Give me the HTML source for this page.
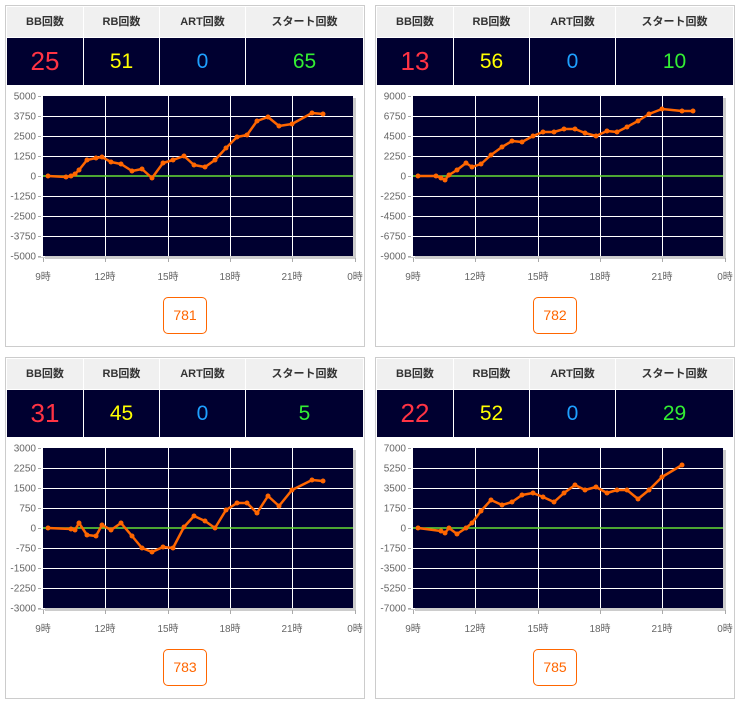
<!DOCTYPE html>
<html><head><meta charset="utf-8"><style>
body{margin:0;width:738px;height:706px;background:#fff;position:relative;overflow:hidden;font-family:"Liberation Sans","Noto Sans CJK JP",sans-serif}
.p{position:absolute;width:370px;height:352px}
.box{position:absolute;left:5px;top:5px;width:358px;height:340px;border:1px solid #ccc;background:#fff}
.hd{position:absolute;top:1px;height:30px;background:#f0f0f0;font-size:11px;font-weight:bold;color:#333;text-align:center;line-height:30px}
.dk{position:absolute;top:32px;height:47px;background:#000030;text-align:center;line-height:47px;font-size:21px}
.btn{position:absolute;left:157px;top:291px;width:42px;height:35px;border:1px solid #ff6600;border-radius:5px;color:#ff6600;font-size:14px;text-align:center;line-height:35px}
svg{position:absolute;left:0;top:0}
</style></head><body>
<div id="root"></div>
<script>
const panels=[
 {x:0,y:0,v:["25","51","0","65"],lab:["5000","3750","2500","1250","0","-1250","-2500","-3750","-5000"],id:"781",
  pts:[[48,176],[66,177],[71,176],[75,174],[79,170],[87,160],[96,158],[102,157],[111,162],[121,164],[132,171],[142,169],[152,178],[163,163],[173,160],[184,156],[194,165],[205,167],[215,160],[226,148],[237,137],[247,135],[257,121],[268,117],[279,126],[292,124],[312,113],[323,114]]},
 {x:370,y:0,v:["13","56","0","10"],lab:["9000","6750","4500","2250","0","-2250","-4500","-6750","-9000"],id:"782",
  pts:[[48,176],[66,176],[71,178],[75,180],[79,175],[87,170],[96,163],[102,167],[111,164],[121,155],[132,147],[142,141],[152,142],[163,136],[173,132],[184,132],[194,129],[205,129],[215,133],[226,136],[237,131],[247,132],[257,127],[268,121],[279,114],[292,109],[312,111],[323,111]]},
 {x:0,y:352,v:["31","45","0","5"],lab:["3000","2250","1500","750","0","-750","-1500","-2250","-3000"],id:"783",
  pts:[[48,176],[71,177],[75,178],[79,171],[87,183],[96,184],[102,173],[111,178],[121,171],[132,184],[142,196],[152,200],[163,195],[173,196],[184,175],[194,164],[205,169],[215,176],[226,158],[237,151],[247,151],[257,161],[268,144],[279,154],[292,138],[312,128],[323,129]]},
 {x:370,y:352,v:["22","52","0","29"],lab:["7000","5250","3500","1750","0","-1750","-3500","-5250","-7000"],id:"785",
  pts:[[48,176],[71,179],[75,181],[79,176],[87,182],[96,176],[102,171],[111,159],[121,148],[132,153],[142,150],[152,143],[163,141],[173,145],[184,150],[194,141],[205,133],[215,138],[226,135],[237,141],[247,138],[257,138],[268,147],[279,138],[292,125],[312,113]]}
];
const cols=[[1,76],[78,75],[154,85],[240,117]];
const heads=["BB回数","RB回数","ART回数","スタート回数"];
const colors=["#ff3344","#ffff00","#1ea0ff","#33ee33"];
let h="";
for(const p of panels){
 h+=`<div class="p" style="left:${p.x}px;top:${p.y}px"><div class="box">`;
 cols.forEach((c,i)=>{
  h+=`<div class="hd" style="left:${c[0]}px;width:${c[1]}px">${heads[i]}</div>`;
  h+=`<div class="dk" style="left:${c[0]}px;width:${c[1]}px;color:${colors[i]};${i==0?'font-size:26px':''}">${p.v[i]}</div>`;
 });
 h+=`<div class="btn">${p.id}</div></div>`;
 let s=`<svg width="370" height="352">`;
 s+=`<rect x="45" y="98" width="311" height="161" fill="#ccc"/>`;
 s+=`<rect x="43" y="96" width="310" height="160" fill="#000030"/>`;
 for(let i=0;i<9;i++){let y=96+i*20;
  if(i>0&&i<8&&i!=4)s+=`<line x1="43" x2="353" y1="${y+0.5}" y2="${y+0.5}" stroke="#fff" stroke-width="1"/>`;
  s+=`<line x1="38" x2="41" y1="${y+0.5}" y2="${y+0.5}" stroke="#aaa"/>`;
  s+=`<text x="36" y="${y+3.5}" font-size="10" fill="#666" text-anchor="end">${p.lab[i]}</text>`;}
 const xs=[43,105,168,230,292,355],xl=["9時","12時","15時","18時","21時","0時"];
 xs.forEach((x,i)=>{
  if(i>0&&i<5)s+=`<line x1="${x+0.5}" x2="${x+0.5}" y1="96" y2="256" stroke="#fff"/>`;
  s+=`<line x1="${x+0.5}" x2="${x+0.5}" y1="258" y2="262" stroke="#aaa"/>`;
  s+=`<text x="${x}" y="280" font-size="10" fill="#666" text-anchor="middle">${xl[i]}</text>`;});
 s+=`<line x1="38" x2="356" y1="257.5" y2="257.5" stroke="#ccc"/>`;
 s+=`<line x1="43" x2="353" y1="176" y2="176" stroke="#66dd33" stroke-width="1.5"/>`;
 s+=`<polyline points="${p.pts.map(a=>a.join(',')).join(' ')}" fill="none" stroke="#ff6600" stroke-width="2.5" stroke-linejoin="round"/>`;
 for(const a of p.pts)s+=`<circle cx="${a[0]}" cy="${a[1]}" r="2.5" fill="#ff6600"/>`;
 s+=`</svg>`;
 h+=s+`</div>`;
}
document.getElementById("root").innerHTML=h;
</script>
</body></html>
